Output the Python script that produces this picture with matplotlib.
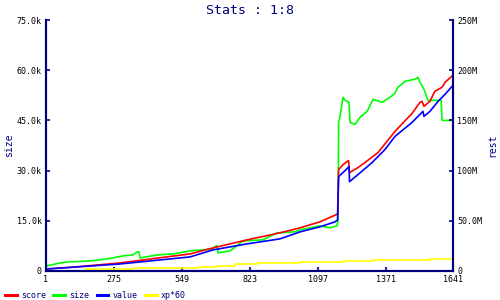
import matplotlib

matplotlib.use("Agg")
import matplotlib.pyplot as plt

# ---- data ----
score_x = [1, 118, 299, 581, 674, 811, 944, 1025, 1105, 1170, 1176, 1180, 1198, 1220,
           1224, 1258, 1286, 1339, 1407, 1476, 1508, 1516, 1524, 1548, 1568, 1597,
           1609, 1641]
score_y = [2, 4, 8, 17, 23, 31, 38, 43, 49, 56, 57, 101, 106, 110,
           98, 103, 108, 118, 139, 157, 168, 169, 164, 169, 179, 183,
           188, 195]  # M

value_x = [1, 65, 299, 581, 674, 811, 944, 1025, 1105, 1166, 1176, 1180, 1206, 1222,
           1224, 1258, 1315, 1367, 1407, 1476, 1520, 1524, 1548, 1581, 1609, 1641]
value_y = [2, 3, 7, 14, 21, 27, 32, 39, 44, 49, 51, 94, 100, 104,
           89, 96, 108, 121, 134, 148, 159, 154, 159, 169, 176, 185]  # M

size_x = [1, 5, 57, 86, 178, 247, 311, 352, 368, 376, 380, 448, 513, 581, 674, 686,
          690, 694, 743, 795, 875, 932, 1004, 1025, 1065, 1105, 1145, 1174, 1176,
          1178, 1180, 1186, 1198, 1206, 1222, 1226, 1246, 1266, 1295, 1319, 1355,
          1387, 1407, 1419, 1448, 1488, 1500, 1508, 1524, 1540, 1593, 1597, 1641]
size_y = [2.4, 1.5, 2.4, 2.7, 3.0, 3.6, 4.5, 4.8, 5.7, 5.7, 3.9, 4.8, 5.1, 6.0, 6.6, 7.5,
          7.5, 5.4, 6.0, 9.0, 9.3, 11.4, 11.7, 12.3, 12.9, 13.5, 12.9, 13.5, 14.7,
          14.7, 44.4, 46.2, 51.9, 51.0, 50.4, 44.4, 43.8, 45.9, 47.7, 51.3, 50.4,
          51.9, 53.1, 54.9, 56.7, 57.3, 57.9, 56.4, 54.3, 51.0, 51.0, 45.0, 45.0]  # k

xp_x = [1, 158, 352, 614, 690, 763, 851, 932, 1025, 1198, 1319, 1548, 1641]
xp_y = [0.3, 1.7, 2.7, 4.3, 5.3, 6.7, 7.7, 8.3, 8.7, 10.0, 11.0, 12.3, 12.3]  # M

x_ticks = [1, 275, 549, 823, 1097, 1371, 1641]
left_ticks = [0, 15000, 30000, 45000, 60000, 75000]
left_labels = ["0", "15.0k", "30.0k", "45.0k", "60.0k", "75.0k"]
right_ticks = [0, 50e6, 100e6, 150e6, 200e6, 250e6]
right_labels = ["0", "50.0M", "100M", "150M", "200M", "250M"]

NAVY = "#00007f"
MONO = "DejaVu Sans Mono"


def main():
    plt.rcParams.update({"font.family": MONO, "font.size": 6})
    fig = plt.figure(figsize=(5, 3), dpi=100)
    ax = fig.add_axes([0.092, 0.0967, 0.814, 0.8366])
    ax2 = ax.twinx()

    lw = 1.2
    ax.plot(size_x, [v * 1000 for v in size_y], color="#00ff00", lw=lw, label="size")
    ax2.plot(score_x, [v * 1e6 for v in score_y], color="#ff0000", lw=lw, label="score")
    ax2.plot(value_x, [v * 1e6 for v in value_y], color="#0000ff", lw=lw, label="value")
    ax2.plot(xp_x, [v * 1e6 for v in xp_y], color="#ffff00", lw=lw,
             drawstyle="steps-post", label="xp*60")

    ax.set_xlim(1, 1641)
    ax.set_ylim(0, 75000)
    ax2.set_ylim(0, 250e6)

    ax.set_xticks(x_ticks)
    ax.set_xticklabels([str(t) for t in x_ticks])
    ax.set_yticks(left_ticks)
    ax.set_yticklabels(left_labels)
    ax2.set_yticks(right_ticks)
    ax2.set_yticklabels(right_labels)

    for a in (ax, ax2):
        a.spines["top"].set_visible(False)
        for s in ("left", "right", "bottom"):
            a.spines[s].set_color(NAVY)
            a.spines[s].set_linewidth(1.5)
        a.tick_params(direction="in", length=3, width=1.2, color=NAVY,
                      labelsize=6, labelcolor="black", pad=3)

    ax.set_ylabel("size", color=NAVY, fontsize=7, labelpad=2)
    ax2.set_ylabel("rest", color=NAVY, fontsize=7, labelpad=4)
    fig.suptitle("Stats : 1:8", color=NAVY, fontsize=9.5, y=0.985)

    h1, l1 = ax.get_legend_handles_labels()
    h2, l2 = ax2.get_legend_handles_labels()
    order = {"score": 0, "size": 1, "value": 2, "xp*60": 3}
    pairs = sorted(zip(h1 + h2, l1 + l2), key=lambda p: order[p[1]])
    leg = fig.legend([p[0] for p in pairs], [p[1] for p in pairs], loc="lower left",
                     bbox_to_anchor=(-0.005, -0.025), ncol=4, frameon=False, fontsize=6,
                     handlelength=1.4, handletextpad=0.5, columnspacing=0.9)
    for line in leg.get_lines():
        line.set_linewidth(2.2)
    for t in leg.get_texts():
        t.set_color(NAVY)

    fig.savefig("out.png", dpi=100, facecolor="white")
    plt.close(fig)


if __name__ == "__main__":
    main()
